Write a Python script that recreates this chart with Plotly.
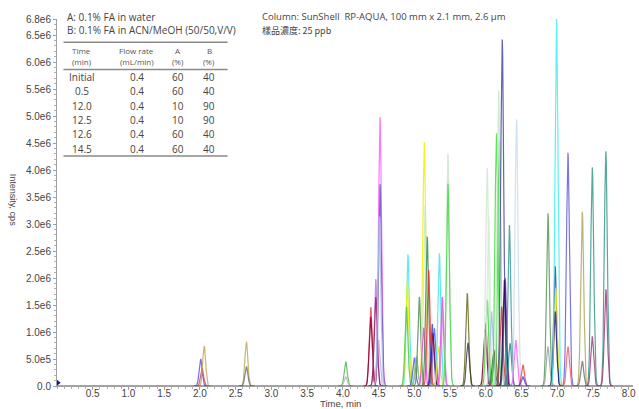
import numpy as np
import plotly.graph_objects as go

# ---------------- data ----------------
# peak apex retention times (min), apex heights (x1e6 cps), trace colours
peak_rt = [
    2.01, 2.03, 2.06,
    2.65, 2.65,
    4.04, 4.04,
    4.39, 4.39, 4.46, 4.46, 4.50, 4.52, 4.52, 4.51,
    4.91, 4.90, 4.89,
    5.00, 5.03, 5.03,
    5.07,
    5.14, 5.15, 5.13,
    5.18, 5.20,
    5.25, 5.28, 5.26,
    5.35, 5.34,
    5.39, 5.40,
    5.47, 5.47,
    5.74, 5.75,
    6.00, 5.99, 6.02, 6.02, 6.04, 6.08,
    6.13, 6.11,
    6.15, 6.19, 6.18,
    6.23, 6.22,
    6.27, 6.26,
    6.33, 6.34,
    6.43, 6.42,
    6.52, 6.52,
    6.87, 6.87,
    6.97, 6.98, 6.97, 6.99,
    7.15, 7.15,
    7.35, 7.35,
    7.49, 7.49,
    7.68, 7.68,
]
peak_height = [
    0.50, 0.33, 0.74,
    0.82, 0.36,
    0.45, 0.17,
    1.46, 1.28, 1.98, 1.65, 0.85, 4.98, 3.74, 3.14,
    2.44, 1.93, 1.47,
    0.52, 0.52, 0.55,
    1.65,
    4.52, 3.35, 1.08,
    2.77, 2.15,
    1.15, 1.07, 0.98,
    2.46, 0.73,
    1.65, 1.41,
    4.31, 3.75,
    1.72, 0.80,
    1.16, 1.05, 4.04, 1.60, 3.16, 1.38,
    0.67, 0.60,
    4.68, 4.55, 5.48,
    6.42, 1.47,
    2.00, 1.96,
    2.98, 0.79,
    4.94, 0.85,
    0.39, 0.17,
    3.20, 0.73,
    2.22, 1.81, 1.38, 6.80,
    4.32, 0.73,
    3.23, 0.46,
    4.05, 0.92,
    4.35, 1.79,
]
peak_color = [
    "#5858E8", "#E04848", "#C8A458",
    "#B8B058", "#707070",
    "#60B060", "#B8B8B8",
    "#F04858", "#900040", "#C080C8", "#902060", "#C8A8E8", "#FF60FF", "#6A5ACD", "#A8C4E4",
    "#40E8F0", "#F0F000", "#50C850",
    "#5050F0", "#6080F0", "#98D858",
    "#4F8F4F",
    "#F0F000", "#C8E8C8", "#F040F0",
    "#3C8C50", "#F03030",
    "#4040E0", "#6060F0", "#800030",
    "#40E8F0", "#E8E800",
    "#F040F0", "#E080E0",
    "#C8E8C8", "#48D848",
    "#6B6B20", "#404040",
    "#E05050", "#800020", "#D0E8D0", "#40D040", "#D8ECD8", "#A0C0E0",
    "#606020", "#406040",
    "#40E040", "#50D050", "#C8E8C8",
    "#4B4BA0", "#C04040",
    "#6040A0", "#300060",
    "#3A9A9A", "#2E8B8B",
    "#C8DCF0", "#FF60FF",
    "#F04040", "#4040F0",
    "#5A9A5A", "#A0A0A0",
    "#4040A0", "#F0F000", "#202080", "#40F0F0",
    "#6060E0", "#F06060",
    "#B0A860", "#707070",
    "#3A9A8A", "#A04080",
    "#3A9A8A", "#A04080",
]

x_tick_vals = [0.5, 1.0, 1.5, 2.0, 2.5, 3.0, 3.5, 4.0, 4.5, 5.0, 5.5, 6.0, 6.5, 7.0, 7.5, 8.0]
x_tick_text = ["0.5", "1.0", "1.5", "2.0", "2.5", "3.0", "3.5", "4.0", "4.5", "5.0", "5.5", "6.0", "6.5", "7.0", "7.5", "8.0"]
y_tick_vals = [0, 5e5, 1e6, 1.5e6, 2e6, 2.5e6, 3e6, 3.5e6, 4e6, 4.5e6, 5e6, 5.5e6, 6e6, 6.5e6, 6.8e6]
y_tick_text = ["0.0", "5.0e5", "1.0e6", "1.5e6", "2.0e6", "2.5e6", "3.0e6", "3.5e6", "4.0e6",
               "4.5e6", "5.0e6", "5.5e6", "6.0e6", "6.5e6", "6.8e6"]

gradient_time = ["Initial", "0.5", "12.0", "12.5", "12.6", "14.5"]
gradient_flow = ["0.4", "0.4", "0.4", "0.4", "0.4", "0.4"]
gradient_a = ["60", "60", "10", "10", "60", "60"]
gradient_b = ["40", "40", "90", "90", "40", "40"]

# ---------------- figure ----------------
W, H = 639, 409
ML, MR, MT, MB = 57, 3, 19, 23
PW, PH = W - ML - MR, H - MT - MB


def px(x):
    return (x - ML) / PW


def py(y):
    return (H - MB - y) / PH


fig = go.Figure()

SIGMA = 0.021
offs = np.linspace(-0.1, 0.1, 61)
for rt, h, c in zip(peak_rt, peak_height, peak_color):
    xs = rt + offs
    ys = h * 1e6 * np.exp(-0.5 * (offs / SIGMA) ** 2)
    fig.add_trace(go.Scatter(x=xs, y=ys, mode="lines",
                             line=dict(color=c, width=1.2), opacity=0.85,
                             hoverinfo="skip", showlegend=False))

# baseline
fig.add_trace(go.Scatter(x=[0, 8.06], y=[0, 0], mode="lines",
                         line=dict(color="#3434F0", width=1.2),
                         showlegend=False, hoverinfo="skip"))
fig.add_trace(go.Scatter(x=[0.01], y=[0.6e5], mode="markers",
                         marker=dict(symbol="triangle-right", size=6, color="#1010C0"),
                         showlegend=False, hoverinfo="skip", cliponaxis=False))

tick_font = dict(family="Liberation Sans, Arial", size=10, color="#444444")
fig.update_xaxes(range=[0, 8.06], tickmode="array", tickvals=x_tick_vals, ticktext=x_tick_text,
                 showgrid=False, zeroline=False, showline=True, linecolor="#A0A0A0",
                 ticks="outside", ticklen=3, tickcolor="#A0A0A0", tickfont=tick_font,
                 ticklabelstandoff=-5, ticklabeloverflow="allow",
                 minor=dict(dtick=0.1, tick0=0, ticks="outside", ticklen=2, tickcolor="#B0B0B0"))
fig.update_yaxes(range=[0, 6.8e6], tickmode="array", tickvals=y_tick_vals, ticktext=y_tick_text,
                 showgrid=False, zeroline=False, showline=True, linecolor="#A0A0A0",
                 ticks="outside", ticklen=3, tickcolor="#A0A0A0", tickfont=tick_font,
                 ticklabeloverflow="allow",
                 minor=dict(dtick=1e5, tick0=0, ticks="outside", ticklen=2, tickcolor="#B0B0B0"))

ann = []
txt_font = "Open Sans, Noto Sans"
ann.append(dict(x=px(65), y=py(17), text="A: 0.1% FA in water", xanchor="left", yanchor="middle",
                font=dict(family=txt_font, size=10, color="#444")))
ann.append(dict(x=px(65), y=py(30.5), text="B: 0.1% FA in ACN/MeOH (50/50,V/V)", xanchor="left",
                yanchor="middle", font=dict(family=txt_font, size=10, color="#444")))
ann.append(dict(x=px(261), y=py(16.5), text="Column: SunShell  RP-AQUA, 100 mm x 2.1 mm, 2.6 μm",
                xanchor="left", yanchor="middle", font=dict(family=txt_font, size=9.5, color="#444")))
ann.append(dict(x=px(261), y=py(30.5), text="樣品濃度: 25 ppb", xanchor="left", yanchor="middle",
                font=dict(family="Noto Sans CJK TC", size=9, color="#444")))

col_x = [82, 137, 179, 210]
headers = [("Time", "(min)"), ("Flow rate", "(mL/min)"), ("A", "(%)"), ("B", "(%)")]
for cx, (h1, h2) in zip(col_x, headers):
    ann.append(dict(x=px(cx), y=py(50), text=h1, xanchor="center", yanchor="middle",
                    font=dict(family=txt_font, size=8, color="#555")))
    ann.append(dict(x=px(cx), y=py(61.5), text=h2, xanchor="center", yanchor="middle",
                    font=dict(family=txt_font, size=8, color="#555")))
row_y = [77.3, 91.5, 106, 120.2, 134.4, 148.6]
for i, ry in enumerate(row_y):
    for cx, val in zip(col_x, [gradient_time[i], gradient_flow[i], gradient_a[i], gradient_b[i]]):
        ann.append(dict(x=px(cx), y=py(ry), text=val, xanchor="center", yanchor="middle",
                        font=dict(family=txt_font, size=10, color="#444")))

ann.append(dict(x=px(13), y=py(200), text="Intensity, cps", textangle=90, xanchor="center",
                yanchor="middle", font=dict(family="Liberation Sans, Arial", size=9, color="#444")))
ann.append(dict(x=px(342), y=py(403.5), text="Time, min", xanchor="center", yanchor="middle",
                font=dict(family="Liberation Sans, Arial", size=9.5, color="#444")))
for a in ann:
    a.update(xref="paper", yref="paper", showarrow=False)

shapes = []
for ly in [42.3, 69.5, 156]:
    shapes.append(dict(type="line", xref="paper", yref="paper", x0=px(63.5), x1=px(228.5),
                       y0=py(ly), y1=py(ly), line=dict(color="#8A8A8A", width=1.4)))

fig.update_layout(width=W, height=H, margin=dict(l=ML, r=MR, t=MT, b=MB),
                  plot_bgcolor="white", paper_bgcolor="white",
                  annotations=ann, shapes=shapes, showlegend=False)

fig.write_html("out.html", config={"displayModeBar": False},
               post_script="document.body.style.margin='0';document.body.style.overflow='hidden';")
